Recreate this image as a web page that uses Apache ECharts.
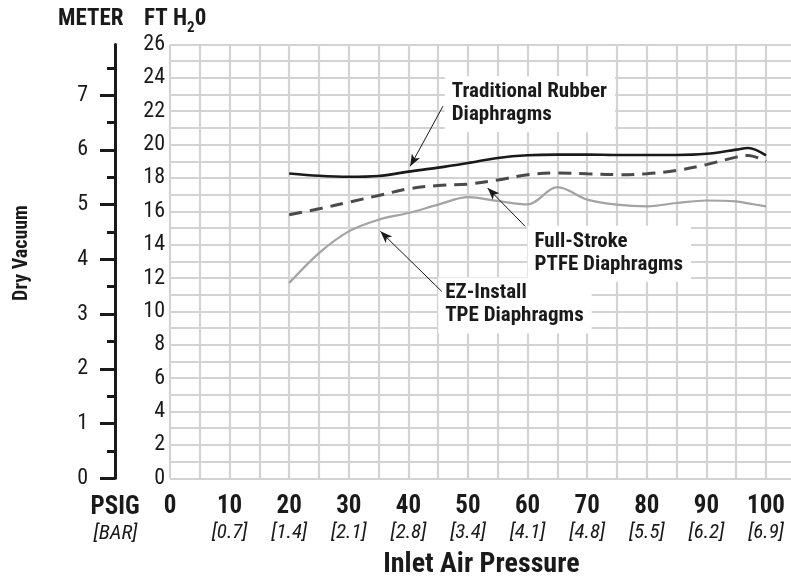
<!DOCTYPE html>
<html>
<head>
<meta charset="utf-8">
<script src="https://cdn.jsdelivr.net/npm/echarts@6/dist/echarts.min.js"></script>
<style>
  html, body { margin: 0; padding: 0; background: #ffffff; }
  #chart { width: 791px; height: 578px; }
</style>
</head>
<body>
<div id="chart"></div>
<script>
// Inlet air pressure (psig) at which each curve is sampled
const pressurePsig = [20, 25, 30, 35, 40, 45, 50, 55, 60, 65, 70, 75, 80, 85, 90, 95, 97, 100];

// Dry vacuum in ft H2O
const rubberFt = [18.27, 18.13, 18.07, 18.12, 18.38, 18.62, 18.9, 19.2, 19.36, 19.4, 19.4, 19.38, 19.38, 19.38, 19.45, 19.7, 19.8, 19.35];
const ptfeFt   = [15.8, 16.15, 16.55, 16.95, 17.35, 17.55, 17.63, 17.88, 18.2, 18.3, 18.25, 18.2, 18.25, 18.45, 18.8, 19.25, 19.35, 19.0];
const tpeFt    = [11.7, 13.5, 14.8, 15.5, 15.9, 16.4, 16.85, 16.62, 16.42, 17.45, 16.7, 16.4, 16.3, 16.5, 16.65, 16.6, 16.48, 16.3];

// Axis labels
const psigTicks  = [0, 10, 20, 30, 40, 50, 60, 70, 80, 90, 100];
const barTicks   = ['', '0.7', '1.4', '2.1', '2.8', '3.4', '4.1', '4.8', '5.5', '6.2', '6.9'];
const ftTicks    = [0, 2, 4, 6, 8, 10, 12, 14, 16, 18, 20, 22, 24, 26];
const meterTicks = [0, 1, 2, 3, 4, 5, 6, 7];
const meterHalfTicks = [0.5, 1.5, 2.5, 3.5, 4.5, 5.5, 6.5, 7.5];
const FT_PER_METER = 3.28084;

// Callouts: text lines, box corner, arrow tail and arrow tip (psig, ft H2O)
const rubberNote = { lines: ['Traditional Rubber', 'Diaphragms'], box: [46.1, 24.1], tail: [45.8, 22.3], tip: [40.3, 18.7] };
const ptfeNote   = { lines: ['Full-Stroke', 'PTFE Diaphragms'], box: [60.0, 15.13], tail: [59.6, 15.1], tip: [53.3, 17.4] };
const tpeNote    = { lines: ['EZ-Install', 'TPE Diaphragms'], box: [45.0, 12.03], tail: [45.6, 11.2], tip: [35.3, 14.8] };

const FONT = "'Roboto Condensed', 'Open Sans', sans-serif";
const GRID_COLOR = '#d3d3d3';
const INK = '#1a1a1a';

const chart = echarts.init(document.getElementById('chart'), null, { renderer: 'canvas' });

function pairs(ys) {
  return pressurePsig.map((x, i) => [x, ys[i]]);
}

function arrowLine(note) {
  return {
    silent: true,
    animation: false,
    symbol: ['none', 'arrow'],
    lineStyle: { color: INK, width: 1, type: 'solid' },
    label: { show: false },
    emphasis: { disabled: true },
    data: [[
      { coord: note.tail, symbol: 'none' },
      { coord: note.tip, symbol: 'arrow', symbolSize: [7, 12] }
    ]]
  };
}

const meterMax = 26 / FT_PER_METER;

const option = {
  animation: false,
  backgroundColor: '#ffffff',
  textStyle: { fontFamily: FONT },
  grid: {
    left: 170, top: 44.5, width: 104.5 * 5.96, height: 433.8,
    containLabel: false,
    outerBoundsMode: 'none'
  },
  xAxis: {
    type: 'value',
    min: 0,
    max: 104.5,
    interval: 5,
    name: 'Inlet Air Pressure',
    nameLocation: 'middle',
    nameGap: 73,
    nameTextStyle: { fontFamily: FONT, fontWeight: 'bold', fontSize: 28, color: INK },
    axisLine: { show: false },
    axisTick: { show: false },
    splitLine: { show: true, lineStyle: { color: GRID_COLOR, width: 2.2 } },
    axisLabel: {
      customValues: psigTicks,
      margin: 15.5,
      formatter: function (v) {
        const i = psigTicks.indexOf(v);
        const bar = i >= 0 && barTicks[i] ? '[' + barTicks[i] + ']' : ' ';
        return '{a|' + v + '}\n{b|' + bar + '}';
      },
      rich: {
        a: { fontFamily: FONT, fontWeight: 'bold', fontSize: 25, lineHeight: 26, color: INK },
        b: { fontFamily: FONT, fontStyle: 'italic', fontSize: 21, lineHeight: 26, color: INK }
      }
    }
  },
  yAxis: [
    {
      type: 'value',
      min: 0,
      max: 26,
      interval: 1,
      axisLine: { show: false },
      axisTick: { show: false },
      splitLine: { show: true, lineStyle: { color: GRID_COLOR, width: 2.2 } },
      axisLabel: {
        customValues: ftTicks,
        margin: 5,
        fontFamily: FONT,
        fontSize: 22,
        color: INK
      }
    },
    {
      type: 'value',
      position: 'left',
      offset: 55,
      min: 0,
      max: meterMax,
      axisLine: { show: true, onZero: false, lineStyle: { color: INK, width: 3 } },
      axisTick: { show: true, customValues: meterTicks, length: 15, lineStyle: { color: INK, width: 3 } },
      splitLine: { show: false },
      axisLabel: {
        customValues: meterTicks,
        margin: 27,
        fontFamily: FONT,
        fontSize: 22,
        color: INK
      }
    },
    {
      type: 'value',
      position: 'left',
      offset: 55,
      min: 0,
      max: meterMax,
      axisLine: { show: false },
      axisTick: { show: true, customValues: meterHalfTicks, length: 8, lineStyle: { color: INK, width: 3 } },
      splitLine: { show: false },
      axisLabel: { show: false }
    }
  ],
  series: [
    {
      name: 'Traditional Rubber Diaphragms',
      type: 'line',
      data: pairs(rubberFt),
      smooth: 0.35,
      symbol: 'none',
      lineStyle: { color: INK, width: 2.6 },
      z: 4,
      markLine: arrowLine(rubberNote)
    },
    {
      name: 'Full-Stroke PTFE Diaphragms',
      type: 'line',
      data: pairs(ptfeFt),
      smooth: 0.35,
      symbol: 'none',
      lineStyle: { color: '#4a4a4a', width: 3, type: [13, 8] },
      z: 4,
      markLine: arrowLine(ptfeNote)
    },
    {
      name: 'EZ-Install TPE Diaphragms',
      type: 'line',
      data: pairs(tpeFt),
      smooth: 0.35,
      symbol: 'none',
      lineStyle: { color: '#a3a3a3', width: 2.2 },
      z: 3,
      markLine: arrowLine(tpeNote)
    }
  ]
};

chart.setOption(option);

// Callout boxes and header texts, placed from data coordinates
function noteText(note) {
  const p = chart.convertToPixel({ xAxisIndex: 0, yAxisIndex: 0 }, note.box);
  return {
    type: 'text',
    z: 1,
    silent: true,
    style: {
      x: p[0],
      y: p[1],
      text: note.lines.join('\n'),
      font: 'bold 21px ' + FONT,
      fill: INK,
      lineHeight: 23,
      backgroundColor: '#ffffff',
      padding: [4, 8, 6, 7],
      align: 'left',
      verticalAlign: 'top'
    }
  };
}

chart.setOption({
  graphic: [
    noteText(rubberNote),
    noteText(ptfeNote),
    noteText(tpeNote),
    {
      type: 'text',
      silent: true,
      style: {
        x: 58, y: 8,
        text: '{t|METER}',
        rich: { t: { font: 'bold 23px ' + FONT, fill: INK, lineHeight: 24, verticalAlign: 'top' } }
      }
    },
    {
      type: 'text',
      silent: true,
      style: {
        x: 144, y: 8,
        text: '{t|FT H}{s|2}{t|0}',
        rich: {
          t: { font: 'bold 23px ' + FONT, fill: INK, lineHeight: 24, verticalAlign: 'top' },
          s: { font: 'bold 15px ' + FONT, fill: INK, lineHeight: 14, padding: [13, 0, 0, 0], verticalAlign: 'top' }
        }
      }
    },
    {
      type: 'text',
      silent: true,
      x: 22, y: 253,
      rotation: Math.PI / 2,
      style: {
        x: 0, y: 0,
        text: 'Dry Vacuum',
        font: 'bold 20px ' + FONT,
        fill: INK,
        align: 'center',
        verticalAlign: 'middle'
      }
    },
    {
      type: 'text',
      silent: true,
      style: {
        x: 115, y: 508,
        text: 'PSIG',
        font: 'bold 25px ' + FONT,
        fill: INK,
        align: 'center',
        verticalAlign: 'middle'
      }
    },
    {
      type: 'text',
      silent: true,
      style: {
        x: 115.5, y: 534,
        text: '[BAR]',
        font: 'italic 21px ' + FONT,
        fill: INK,
        align: 'center',
        verticalAlign: 'middle'
      }
    }
  ]
});
</script>
</body>
</html>
